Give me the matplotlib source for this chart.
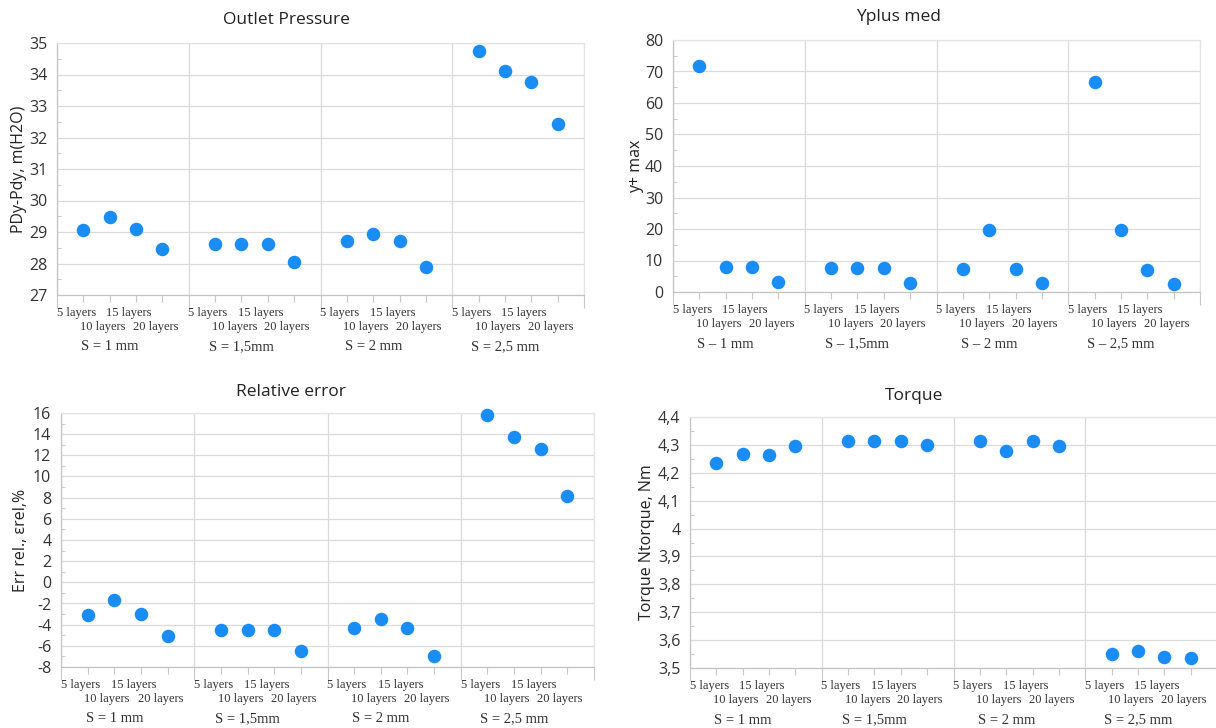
import numpy as np
import matplotlib
matplotlib.use('Agg')
import matplotlib.pyplot as plt
from matplotlib.ticker import FixedLocator, FuncFormatter, MultipleLocator
from matplotlib.transforms import blended_transform_factory

# data
spacings = ['1 mm', '1,5mm', '2 mm', '2,5 mm']
layers = ['5 layers', '10 layers', '15 layers', '20 layers']

outlet_pressure = [
    [29.07, 29.48, 29.11, 28.46],
    [28.62, 28.62, 28.62, 28.05],
    [28.70, 28.95, 28.70, 27.88],
    [34.74, 34.10, 33.77, 32.43],
]
yplus_max = [
    [71.8, 7.8, 7.8, 3.2],
    [7.6, 7.6, 7.6, 2.9],
    [7.2, 19.6, 7.2, 2.8],
    [66.8, 19.6, 6.9, 2.6],
]
rel_error = [
    [-3.1, -1.7, -3.0, -5.1],
    [-4.55, -4.55, -4.55, -6.47],
    [-4.33, -3.47, -4.33, -6.98],
    [15.8, 13.75, 12.6, 8.15],
]
torque = [
    [4.236, 4.266, 4.265, 4.297],
    [4.313, 4.313, 4.313, 4.298],
    [4.313, 4.277, 4.313, 4.295],
    [3.549, 3.560, 3.539, 3.536],
]

W, H = 1216, 728
BLUE = '#1a8cf5'
GRID = '#dadada'
SANS = 'Open Sans'
SERIF = 'Liberation Serif'

fig = plt.figure(figsize=(W / 100, H / 100), dpi=100)


def px_axes(left, right, top, bottom):
    return fig.add_axes([left / W, 1 - bottom / H, (right - left) / W, (bottom - top) / H])


def panel(box, values, ylim, ystep, title, title_xy, ylabel, ylabel_x, sep, comma=False):
    ax = px_axes(*box)
    for g, vals in enumerate(values):
        xs = [g * 5 + k + 1 for k in range(len(vals))]
        ax.scatter(xs, vals, s=95, color=BLUE, zorder=3, linewidths=0, clip_on=False)

    ax.set_xlim(0, 20)
    ax.set_ylim(*ylim)
    ax.yaxis.set_major_locator(MultipleLocator(ystep))
    ax.yaxis.set_minor_locator(MultipleLocator(ystep / 2))
    if comma:
        ax.yaxis.set_major_formatter(FuncFormatter(
            lambda v, p: f"{round(v, 1):g}".replace('.', ',')))
    else:
        ax.yaxis.set_major_formatter(FuncFormatter(lambda v, p: f"{round(v):d}"))

    ax.xaxis.set_major_locator(FixedLocator([0, 5, 10, 15, 20]))
    ax.xaxis.set_minor_locator(FixedLocator(range(21)))
    ax.xaxis.set_major_formatter(FuncFormatter(lambda v, p: ''))
    ax.tick_params(axis='x', which='major', length=9, color='#c8c8c8', width=0.8)
    ax.tick_params(axis='x', which='minor', length=5, color='#c8c8c8', width=0.8)
    ax.tick_params(axis='y', which='major', length=0, pad=7, labelsize=11.5,
                   labelcolor='#333333')
    ax.tick_params(axis='y', which='minor', length=3, direction='in',
                   color='#cccccc', width=0.8)
    for lab in ax.get_yticklabels():
        lab.set_fontfamily(SANS)

    ax.grid(True, which='major', axis='both', color=GRID, linewidth=0.9)
    ax.set_axisbelow(True)
    ax.spines['left'].set_color('#c4c4c4')
    ax.spines['bottom'].set_color('#c4c4c4')
    ax.spines['top'].set_color('#e4e4e4')
    ax.spines['right'].set_color('#e4e4e4')
    for s in ax.spines.values():
        s.set_linewidth(0.9)

    # staggered category labels, Excel style
    tr = blended_transform_factory(ax.transData, ax.transAxes)
    axes_h = box[3] - box[2]
    for g, sp in enumerate(spacings):
        for k, lab in enumerate(layers):
            row = k % 2
            ax.text(g * 5 + k + 1 - 0.27, -(18 + row * 14) / axes_h, lab,
                    transform=tr, ha='center', va='center', fontsize=9,
                    family=SERIF, color='#333333')
        ax.text(g * 5 + 2, -52 / axes_h, f"S {sep} {sp}", transform=tr,
                ha='center', va='center', fontsize=10.5, family=SERIF,
                color='#333333')

    fig.text(title_xy[0] / W, 1 - title_xy[1] / H, title, ha='center', va='center',
             fontsize=12.5, family=SANS, color='#222222')
    fig.text(ylabel_x / W, 1 - (box[2] + box[3]) / 2 / H, ylabel, rotation=90,
             ha='center', va='center', fontsize=11.5, family=SANS, color='#222222')
    return ax


panel((57, 584, 43, 295), outlet_pressure, (27, 35), 1, 'Outlet Pressure', (286, 20),
      'PDy-Pdy, m(H2O)', 19, '=')
panel((673, 1200, 40, 292), yplus_max, (0, 80), 10, 'Yplus med', (899, 17),
      'y+ max', 636, '–')
panel((61, 594, 413, 667), rel_error, (-8, 16), 2, 'Relative error', (291, 392),
      'Err rel., εrel,%', 21, '=')
panel((690, 1217, 417, 668), torque, (3.5, 4.4), 0.1, 'Torque', (914, 396),
      'Torque Ntorque, Nm', 647, '=', comma=True)

fig.savefig('out.png', dpi=100, facecolor='white')
